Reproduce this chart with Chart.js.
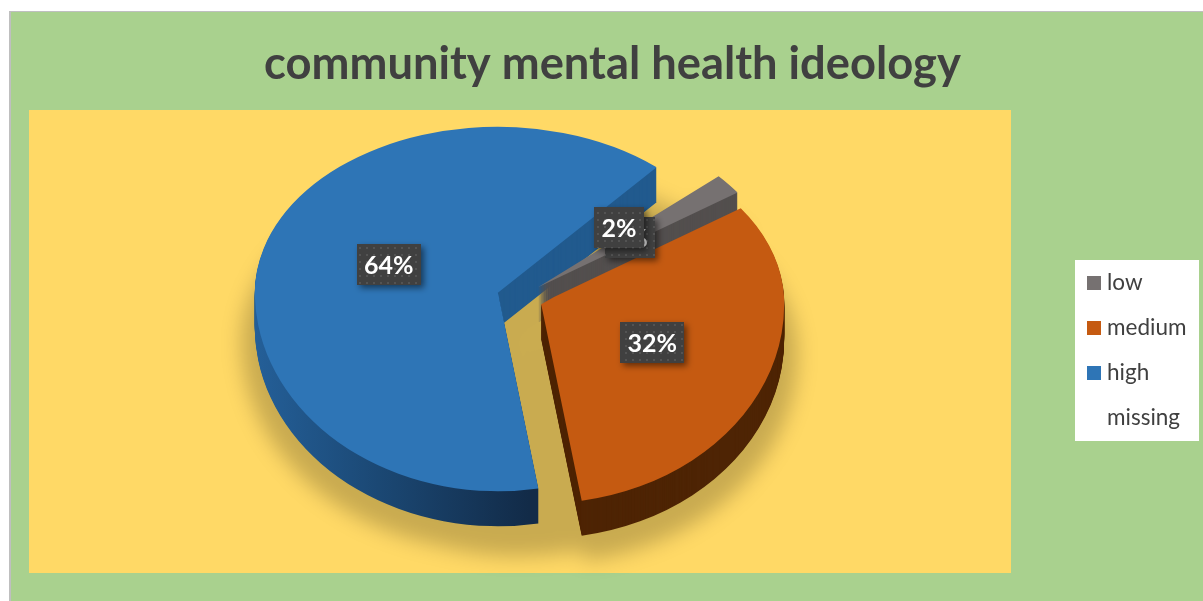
<!DOCTYPE html>
<html lang="en">
<head>
    <meta charset="UTF-8">
    <title>community mental health ideology</title>
    <script src="https://cdn.jsdelivr.net/npm/chart.js"></script>
    <style>
        html, body { margin: 0; padding: 0; background: #fff; overflow: hidden; }
        canvas { display: block; }
    </style>
</head>
<body>
    <canvas id="ideologyChart" width="1203" height="601"></canvas>

    <script>
        const categories = ['low', 'medium', 'high', 'missing'];
        const percentValues = [2, 32, 64, 2];
        const chartTitle = 'community mental health ideology';

        const topColors = ['#767171', '#c55a11', '#2e75b6', 'rgba(0,0,0,0)'];
        const wallColors = ['#534f4e', '#4e2404', '#215a8e', 'rgba(0,0,0,0)'];
        const paintOrder = [2, 0, 1];
        const labelShift = [[-3, 2], [-1, 0], [8, -6], [-2, 1]];

        // pie centre on the page, tilt of the disc and height of the walls
        const pie = { x: 520, y: 297, radius: 243, explode: 23, backTilt: 0.683, frontTilt: 0.82, depth: 35 };

        function fillArc(ctx, arc, fill) {
            const saved = arc.options;
            arc.options = Object.assign({}, saved, { backgroundColor: fill });
            arc.draw(ctx);
            arc.options = saved;
        }

        function tilt(ctx, arc, scaleY, drop, explode) {
            const mid = (arc.startAngle + arc.endAngle) / 2;
            ctx.translate(pie.x, pie.y + drop);
            ctx.scale(1, scaleY);
            ctx.translate(Math.cos(mid) * explode - arc.x, Math.sin(mid) * explode - arc.y);
        }

        // the disc is squashed more behind the centre line than in front of it
        function drawTilted(ctx, chart, arc, backFill, frontFill, drop, explode) {
            const seam = pie.y + drop;
            ctx.save();
            ctx.beginPath();
            ctx.rect(-100, -100, chart.width + 200, seam + 100);
            ctx.clip();
            tilt(ctx, arc, pie.backTilt, drop, explode);
            fillArc(ctx, arc, backFill);
            ctx.restore();

            ctx.save();
            ctx.beginPath();
            ctx.rect(-100, seam, chart.width + 200, chart.height - seam + 100);
            ctx.clip();
            tilt(ctx, arc, pie.frontTilt, drop, explode);
            fillArc(ctx, arc, frontFill);
            ctx.restore();
        }

        function drawShadow(ctx, chart, arcs) {
            const layer = document.createElement('canvas');
            layer.width = chart.width;
            layer.height = chart.height;
            const lc = layer.getContext('2d');
            // slightly wider than the pie so it shows past the rim
            lc.translate(pie.x, pie.y + 50);
            lc.scale(1.05, 1.05);
            lc.translate(-pie.x, -pie.y - 50);
            arcs.forEach(arc => {
                drawTilted(lc, chart, arc, '#000', '#000', 50, pie.explode);
                drawTilted(lc, chart, arc, '#000', '#000', 50, 0);
            });
            ctx.save();
            ctx.globalAlpha = 0.21;
            ctx.filter = 'blur(10px)';
            ctx.drawImage(layer, 0, 0);
            ctx.restore();
        }

        function dottedPattern(ctx) {
            const tile = document.createElement('canvas');
            tile.width = 7;
            tile.height = 7;
            const tc = tile.getContext('2d');
            tc.fillStyle = '#404040';
            tc.fillRect(0, 0, 7, 7);
            tc.fillStyle = '#535353';
            tc.fillRect(2, 2, 2, 2);
            return ctx.createPattern(tile, 'repeat');
        }

        function drawValueLabels(ctx, arcs) {
            const pattern = dottedPattern(ctx);
            ctx.font = 'bold 25px Lato';
            ctx.textAlign = 'center';
            ctx.textBaseline = 'middle';
            arcs.forEach((arc, i) => {
                const text = percentValues[i] + '%';
                const mid = (arc.startAngle + arc.endAngle) / 2;
                const point = arc.getCenterPoint();
                const dx = point.x - arc.x + Math.cos(mid) * pie.explode;
                const dy = point.y - arc.y + Math.sin(mid) * pie.explode;
                const x = pie.x + dx + labelShift[i][0];
                const y = pie.y + dy * (dy < 0 ? pie.backTilt : pie.frontTilt) + labelShift[i][1];
                const w = ctx.measureText(text).width + 15;
                const h = 41;
                ctx.save();
                ctx.shadowColor = 'rgba(0,0,0,0.5)';
                ctx.shadowBlur = 6;
                ctx.shadowOffsetX = 3;
                ctx.shadowOffsetY = 3;
                ctx.fillStyle = pattern;
                ctx.fillRect(Math.round(x - w / 2), Math.round(y - h / 2), Math.round(w), h);
                ctx.restore();
                ctx.fillStyle = '#ffffff';
                ctx.fillText(text, x, y + 1);
            });
        }

        function drawLegend(ctx) {
            ctx.save();
            ctx.fillStyle = '#ffffff';
            ctx.fillRect(1075, 260, 124, 181);
            ctx.font = '22.5px Lato';
            ctx.textBaseline = 'middle';
            categories.forEach((name, i) => {
                const y = 283 + i * 45;
                ctx.fillStyle = topColors[i];
                ctx.fillRect(1087, y - 7, 14, 14);
                ctx.fillStyle = '#404040';
                ctx.fillText(name, 1107, y);
            });
            ctx.restore();
        }

        const panels = {
            id: 'panels',
            beforeDraw(chart) {
                const ctx = chart.ctx;
                ctx.save();
                ctx.fillStyle = '#bfbfbf';
                ctx.fillRect(9, 11, chart.width - 9, chart.height - 11);
                ctx.fillStyle = '#a9d18e';
                ctx.fillRect(11, 12, chart.width - 11, chart.height - 12);
                ctx.fillStyle = '#ffd966';
                ctx.fillRect(29, 110, 982, 463);
                ctx.restore();
                drawLegend(ctx);
            }
        };

        const tiltedPie = {
            id: 'tiltedPie',
            beforeDatasetsDraw(chart) {
                const ctx = chart.ctx;
                const arcs = chart.getDatasetMeta(0).data;
                drawShadow(ctx, chart, arcs);

                paintOrder.forEach(i => {
                    const arc = arcs[i];
                    let frontWall = wallColors[i];
                    if (categories[i] === 'high') {
                        // rim of the large slice darkens towards the front
                        frontWall = ctx.createLinearGradient(arc.x - pie.radius, 0, arc.x + 31, 0);
                        frontWall.addColorStop(0, '#245f98');
                        frontWall.addColorStop(0.45, '#1b4874');
                        frontWall.addColorStop(1, '#122b48');
                    }
                    for (let drop = pie.depth; drop > 0; drop--) {
                        drawTilted(ctx, chart, arc, wallColors[i], frontWall, drop, pie.explode);
                    }
                    drawTilted(ctx, chart, arc, topColors[i], topColors[i], 0, pie.explode);
                });

                drawValueLabels(ctx, arcs);
                return false;
            }
        };

        new Chart(document.getElementById('ideologyChart').getContext('2d'), {
            type: 'pie',
            data: {
                labels: categories,
                datasets: [{
                    data: percentValues,
                    backgroundColor: topColors,
                    borderWidth: 0,
                    hoverOffset: 0
                }]
            },
            options: {
                responsive: false,
                animation: false,
                events: [],
                rotation: 48,
                radius: pie.radius,
                layout: { padding: { left: 22, top: 37, right: 0, bottom: 0 } },
                plugins: {
                    tooltip: { enabled: false },
                    legend: { display: false },
                    title: {
                        display: true,
                        text: chartTitle,
                        color: '#404040',
                        font: { family: 'Lato', size: 45.3, weight: 'bold' },
                        padding: { top: 0, bottom: 0 }
                    }
                }
            },
            plugins: [panels, tiltedPie]
        });
    </script>
</body>
</html>
